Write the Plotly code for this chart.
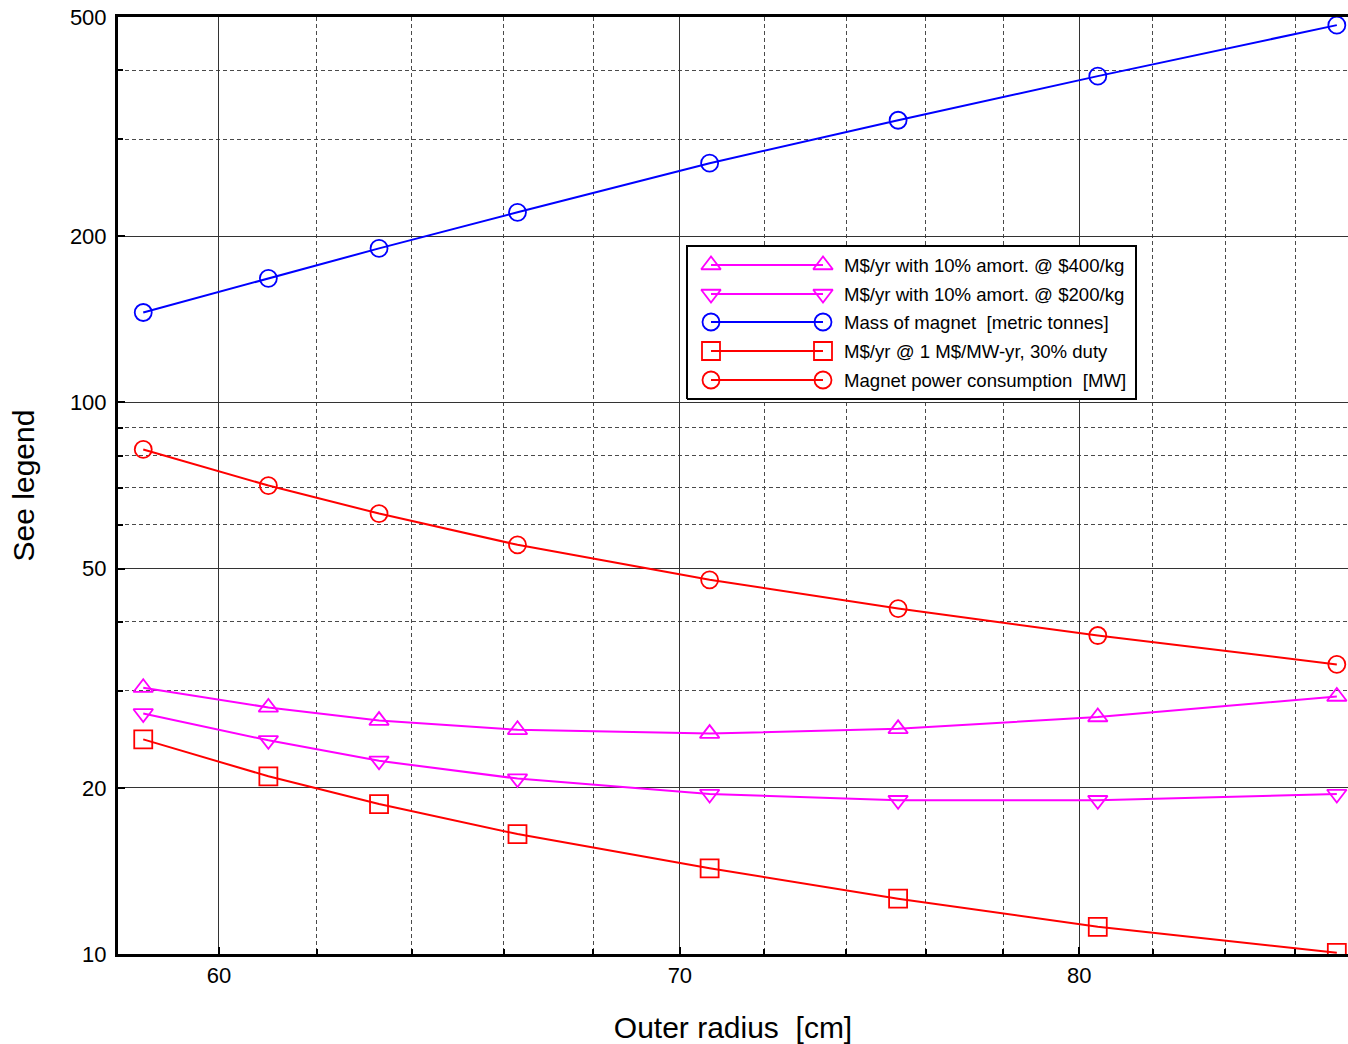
import plotly.graph_objects as go

# ---------------- data ----------------
radius = [58.5, 61.0, 63.3, 66.3, 70.7, 75.3, 80.5, 87.2]
cost_400 = [30.4, 28.0, 26.5, 25.5, 25.1, 25.6, 26.9, 29.3]
cost_200 = [27.3, 24.4, 22.4, 20.8, 19.5, 19.0, 19.0, 19.5]
mass = [145.6, 167.9, 190.3, 221.2, 271.6, 324.9, 390.6, 483.3]
power_cost = [24.5, 21.0, 18.7, 16.5, 14.3, 12.6, 11.2, 10.05]
power = [82.2, 70.7, 62.9, 55.2, 47.7, 42.3, 37.8, 33.5]

series_names = [
    "M$/yr with 10% amort. @ $400/kg",
    "M$/yr with 10% amort. @ $200/kg",
    "Mass of magnet  [metric tonnes]",
    "M$/yr @ 1 M$/MW-yr, 30% duty",
    "Magnet power consumption  [MW]",
]
series_values = [cost_400, cost_200, mass, power_cost, power]
series_colors = ["#ff00ff", "#ff00ff", "#0000ff", "#ff0000", "#ff0000"]
series_symbols = ["triangle-up-open", "triangle-down-open", "circle-open",
                  "square-open", "circle-open"]
symbol_sizes = [17, 17, 17, 18, 17]

x_major = [60, 70, 80]
x_minor = [62, 64, 66, 68, 72, 74, 76, 78, 82, 84, 86]
y_major = [10, 20, 50, 100, 200, 500]
y_minor = [30, 40, 60, 70, 80, 90, 300, 400]

FONT = "Liberation Sans, Arial, sans-serif"

fig = go.Figure()

for name, vals, col, sym, sz in zip(series_names, series_values, series_colors,
                                    series_symbols, symbol_sizes):
    fig.add_trace(go.Scatter(
        x=radius, y=vals, name=name, mode="lines+markers",
        line=dict(color=col, width=2),
        marker=dict(symbol=sym, size=sz, color=col, line=dict(color=col, width=1.8)),
        showlegend=False, xaxis="x", yaxis="y",
    ))

# ---------------- custom legend (MATLAB style) ----------------
LW, LH = 451, 155
fig.add_trace(go.Scatter(
    x=[1, LW - 1, LW - 1, 1, 1], y=[1, 1, LH - 1, LH - 1, 1],
    mode="lines", fill="toself", fillcolor="white",
    line=dict(color="black", width=2), showlegend=False,
    hoverinfo="skip", xaxis="x2", yaxis="y2",
))
row_y = [135, 106, 78, 49, 20]
for name, col, sym, sz, ry in zip(series_names, series_colors, series_symbols,
                                  symbol_sizes, row_y):
    fig.add_trace(go.Scatter(
        x=[25, 137], y=[ry, ry], mode="lines+markers",
        line=dict(color=col, width=2),
        marker=dict(symbol=sym, size=sz, color=col, line=dict(color=col, width=1.8)),
        showlegend=False, hoverinfo="skip", xaxis="x2", yaxis="y2",
    ))
    fig.add_annotation(x=156, y=ry, xref="x2", yref="y2", text=name,
                       showarrow=False, xanchor="left", yanchor="middle",
                       font=dict(family=FONT, size=18.6, color="black"))

W, H = 1348, 1044
L, R, T = 118, 0, 17
B = H - 954
pw, ph = W - L - R, H - T - B

def px_x(p):
    return (p - L) / pw

def px_y(p):
    return (H - B - p) / ph

fig.update_layout(
    width=W, height=H,
    margin=dict(l=L, r=R, t=T, b=B, autoexpand=False),
    paper_bgcolor="white", plot_bgcolor="white",
    font=dict(family=FONT, size=22, color="black"),
    showlegend=False,
    xaxis=dict(
        type="log", range=[1.76349, 1.94214], domain=[0, 1],
        tickmode="array", tickvals=x_major, ticktext=[str(v) for v in x_major],
        ticks="inside", ticklen=7, tickwidth=2, tickcolor="black",
        showline=True, linecolor="black", linewidth=3, mirror=True,
        showgrid=True, gridcolor="#333333", gridwidth=1,
        minor=dict(tickmode="array", tickvals=x_minor, ticks="inside", ticklen=5,
                   tickcolor="black", showgrid=True, gridcolor="#4a4a4a",
                   griddash="4px,3px", gridwidth=1),
        zeroline=False, tickfont=dict(size=22), ticklabeloverflow="allow",
        title=dict(text="Outer radius  [cm]", font=dict(size=30), standoff=30),
        automargin=False,
    ),
    yaxis=dict(
        type="log", range=[1, 2.69897], domain=[0, 1],
        tickmode="array", tickvals=y_major, ticktext=[str(v) for v in y_major],
        ticks="inside", ticklen=7, tickwidth=2, tickcolor="black",
        showline=True, linecolor="black", linewidth=3, mirror=False,
        showgrid=True, gridcolor="#333333", gridwidth=1,
        minor=dict(tickmode="array", tickvals=y_minor, ticks="inside", ticklen=5,
                   tickcolor="black", showgrid=True, gridcolor="#4a4a4a",
                   griddash="4px,3px", gridwidth=1),
        zeroline=False, tickfont=dict(size=22), ticklabelstandoff=4,
        ticklabeloverflow="allow",
        title=dict(text="See legend", font=dict(size=30), standoff=27),
        automargin=False,
    ),
    xaxis2=dict(domain=[px_x(686), px_x(1137)], range=[0, LW], visible=False,
                fixedrange=True, anchor="y2"),
    yaxis2=dict(domain=[px_y(400), px_y(245)], range=[0, LH], visible=False,
                fixedrange=True, anchor="x2"),
)

# remove the browser's default 8px body margin so the figure fills the window exactly
fig.write_html("out.html", config={"displayModeBar": False},
               post_script="document.body.style.margin='0px';")
